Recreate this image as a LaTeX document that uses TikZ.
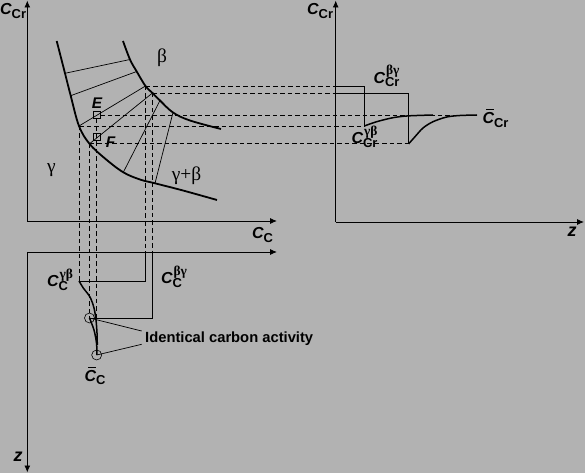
\documentclass[tikz,border=0pt]{standalone}
\usepackage{fontspec}
\usetikzlibrary{arrows.meta}
\newfontfamily\lsans{Liberation Sans}
\newfontfamily\gfont{Liberation Serif}
\definecolor{bg}{gray}{0.70}
\newsavebox\sbA
\newsavebox\sbB
\newcommand{\Clab}[2]{%
 \sbox\sbA{\fontsize{13}{13}\selectfont\lsans\bfseries #1}%
 \sbox\sbB{\fontsize{13.5}{13.5}\selectfont\gfont #2}%
 {\fontsize{16}{16}\selectfont\lsans\bfseries\itshape C}%
 \rlap{\raisebox{-3.8bp}{\usebox\sbA}}%
 \raisebox{8.5bp}{\kern1bp\usebox\sbB}%
 \ifdim\wd\sbA>\dimexpr\wd\sbB+1bp\relax\kern\dimexpr\wd\sbA-\wd\sbB-1bp\relax\fi}
\newcommand{\Cbar}[1]{\rlap{\raisebox{13.5bp}{\kern3.5bp\rule{7.5bp}{0.7bp}}}\Clab{#1}{}}
\begin{document}
\begin{tikzpicture}[x=1bp,y=-1bp,
 axis/.style={line width=0.9bp,-{Latex[length=7bp,width=6bp]}},
 bound/.style={line width=1.8bp},
 tie/.style={line width=0.7bp},
 proj/.style={line width=0.7bp,dash pattern=on 4.5bp off 3bp},
 prof/.style={line width=0.8bp},
 pcurve/.style={line width=1.5bp},
 ebox/.style={draw,line width=0.6bp,minimum size=6.5bp,inner sep=0},
 ring/.style={circle,draw,line width=0.6bp,minimum size=10bp,inner sep=0},
 lab/.style={inner sep=0,font=\lsans\bfseries},
 glab/.style={inner sep=0,font=\gfont\fontsize{19.5}{19.5}\selectfont}]
\useasboundingbox[fill=bg] (0,0) rectangle (585,473);
% axes
\coordinate (O1) at (27.3,221);
\coordinate (Y1) at (27.3,0.5);
\coordinate (X1) at (277,221);
\coordinate (O2) at (335.7,222);
\coordinate (Y2) at (335.7,0.5);
\coordinate (X2) at (584,222);
\coordinate (O3) at (27.3,252);
\coordinate (X3) at (277,252);
\coordinate (Z3) at (27.3,472.5);
\draw[axis] (O1) -- (Y1);
\draw[axis] (O1) -- (X1);
\draw[axis] (O2) -- (Y2);
\draw[axis] (O2) -- (X2);
\draw[axis] (O3) -- (X3);
\draw[axis] (O3) -- (Z3);
% tie-line end points
\coordinate (g1) at (65,73.3);   \coordinate (b1) at (130,59.5);
\coordinate (g2) at (70.7,95.7); \coordinate (b2) at (136.7,71.5);
\coordinate (g3) at (79,126);    \coordinate (b3) at (145.5,86);
\coordinate (g4) at (89.5,143.8);\coordinate (b4) at (152.5,93);
\coordinate (g5) at (123.3,172.3);\coordinate (b5) at (160,100.5);
\coordinate (g6) at (155,183.3); \coordinate (b6) at (173,112.5);
% phase boundaries
\draw[bound] plot[smooth,tension=0.6] coordinates {(56.7,41) (g1) (g2) (g3) (g4) (105,158.5) (g5) (140,179.5) (g6) (183,190.5) (217,200)};
\draw[bound] plot[smooth,tension=0.6] coordinates {(123,41) (b1) (b2) (b3) (b4) (b5) (b6) (190,120.5) (221,129)};
% tie lines
\foreach \i in {1,...,6} \draw[tie] (g\i) -- (b\i);
% E and F
\coordinate (E) at (96.7,115);
\coordinate (F) at (96.7,136.9);
\node[ebox] (Ebox) at (E) {};
\node[ebox] (Fbox) at (F) {};
\node[lab,font=\lsans\bfseries\itshape\fontsize{15.5}{15.5}\selectfont] (Elab) at (97,103) {E};
\node[lab,font=\lsans\bfseries\itshape\fontsize{15.5}{15.5}\selectfont] (Flab) at (110.5,142) {F};
% step positions
\coordinate (s1) at (364.3,0);
\coordinate (s2) at (408.7,0);
\coordinate (p1) at (0,281);
\coordinate (p2) at (0,318);
\coordinate (bar) at (477,0);
% projections to the right panel
\draw[proj] (b3) -- (b3 -| O2);
\draw[proj] (b4) -- (b4 -| O2);
\draw[proj] (g3) -- (g3 -| s1);
\draw[proj] (g4) -- (g4 -| s2);
\draw[proj] (Ebox.east) -- (E -| bar);
\draw[prof] (b3 -| O2) -- (b3 -| s1) -- (g3 -| s1);
\draw[prof] (b4 -| O2) -- (b4 -| s2) -- (g4 -| s2);
\draw[pcurve] plot[smooth] coordinates {(364.3,126) (376.7,121.7) (393,117.7) (408,115.9) (433,115)};
\draw[pcurve] plot[smooth] coordinates {(408.7,143.8) (415,136.7) (423,128) (433,121.7) (446.7,117) (460,115.5) (477,115)};
% projections to the bottom panel
\node[ring] (c1) at (g4 |- p2) {};
\node[ring] (c2) at (96.7,355) {};
\draw[proj] (g3) -- (g3 |- p1);
\draw[proj] (g4) -- (c1.center);
\draw[proj] (Ebox.south) -- (c2.center);
\draw[proj] (b3) -- (b3 |- O3);
\draw[proj] (b4) -- (b4 |- O3);
\draw[prof] (b3 |- O3) -- (b3 |- p1) -- (g3 |- p1);
\draw[prof] (b4 |- O3) -- (b4 |- p2) -- (g4 |- p2);
\draw[pcurve] plot[smooth] coordinates {(79,281) (83.3,288) (90,297) (94,308) (96,320) (97,333) (97.3,345)};
\draw[pcurve] plot[smooth] coordinates {(89.5,318) (94,330) (96.5,343) (97,355)};
% identical carbon activity
\node[lab,anchor=west,font=\lsans\bfseries\fontsize{14.8}{14.8}\selectfont] (ica) at (145,339) {Identical carbon activity};
\coordinate (L1) at (141.7,331);
\coordinate (L2) at (141.7,344.3);
\draw[tie] (L1) -- (c1.center);
\draw[tie] (L2) -- (c2.center);
% phase labels
\node[glab] (beta) at (162,58) {β};
\node[glab] (gamma) at (51.5,170) {γ};
\node[glab] (gb) at (186.5,175.5) {γ+β};
% axis labels
\node[lab,anchor=north west] (yl1) at (0,3) {\Clab{Cr}{}};
\node[lab,anchor=north west] (xl1) at (252,227) {\Clab{C}{}};
\node[lab,anchor=north west] (yl2) at (307,3) {\Clab{Cr}{}};
\node[lab,font=\lsans\bfseries\itshape\fontsize{18}{18}\selectfont] (zl2) at (572,232) {z};
\node[lab,font=\lsans\bfseries\itshape\fontsize{18}{18}\selectfont] (zl3) at (18,457) {z};
% curve labels
\node[lab] (cbg) at (386.5,76) {\Clab{Cr}{βγ}};
\node[lab] (cgb) at (364.5,136.5) {\Clab{Cr}{γβ}};
\node[lab] (cbar) at (495.5,118.5) {\Cbar{Cr}};
\node[lab] (ccgb) at (60,279.5) {\Clab{C}{γβ}};
\node[lab] (ccbg) at (174,276.5) {\Clab{C}{βγ}};
\node[lab] (ccbar) at (95,376) {\Cbar{C}};
\end{tikzpicture}
\end{document}
